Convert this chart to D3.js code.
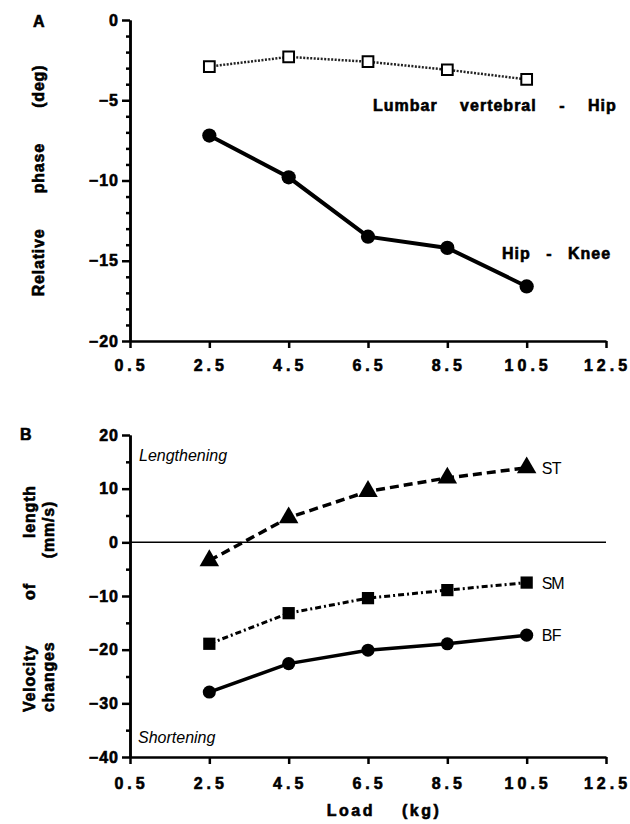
<!DOCTYPE html>
<html>
<head>
<meta charset="utf-8">
<script src="https://cdn.jsdelivr.net/npm/d3@7"></script>
<style>
  body { margin: 0; background: #fff; }
  svg text { font-family: "Liberation Sans", Arial, Helvetica, sans-serif; fill: #000; }
  svg text.heavy { stroke: #000; stroke-width: 0.6; }
  .axis path, .axis line { stroke: #000; stroke-width: 2.5; }
  .axis text { font-size: 16px; font-weight: bold; font-family: "Liberation Sans", Arial, sans-serif; stroke: #000; stroke-width: 0.6; }
</style>
</head>
<body>
<svg id="chart" width="630" height="824"></svg>
<script>
// data
var loads = [2.5, 4.5, 6.5, 8.5, 10.5];
var xTicks = [0.5, 2.5, 4.5, 6.5, 8.5, 10.5, 12.5];

// panel A - relative phase (deg)
var lumbarHip = [-2.9, -2.3, -2.6, -3.1, -3.7];
var hipKnee = [-7.2, -9.8, -13.5, -14.2, -16.6];
var yTicksA = [0, -5, -10, -15, -20];

// panel B - velocity of length changes (mm/s)
var st = [-3.4, 4.6, 9.5, 12.0, 13.9];
var sm = [-18.9, -13.2, -10.4, -8.9, -7.5];
var bf = [-27.9, -22.6, -20.1, -18.9, -17.3];
var yTicksB = [20, 10, 0, -10, -20, -30, -40];

var svg = d3.select('#chart');

var x = d3.scaleLinear().domain([0.5, 12.5]).range([130, 606]);
var yA = d3.scaleLinear().domain([-20, 0]).range([341, 20]);
var yB = d3.scaleLinear().domain([-40, 20]).range([757, 435]);

function drawYAxis(scale, majors, minorStep) {
  var lo = scale.domain()[0], hi = scale.domain()[1];
  var minors = d3.range(lo, hi + 0.001, minorStep).filter(function(v) { return majors.indexOf(v) < 0; });
  svg.append('g').attr('class', 'axis')
    .attr('transform', 'translate(130,0)')
    .call(d3.axisLeft(scale).tickValues(minors).tickSize(4).tickSizeOuter(0).tickFormat(''));
  var g = svg.append('g').attr('class', 'axis')
    .attr('transform', 'translate(130,0)')
    .call(d3.axisLeft(scale).tickValues(majors).tickSize(8).tickSizeOuter(0).tickPadding(3).tickFormat(d3.format('d')));
  g.selectAll('text').attr('letter-spacing', 1);
}

function drawXAxis(yPos, pad) {
  var g = svg.append('g').attr('class', 'axis')
    .attr('transform', 'translate(0,' + yPos + ')')
    .call(d3.axisBottom(x).tickValues(xTicks).tickSize(7).tickSizeOuter(0).tickPadding(pad).tickFormat(d3.format('.1f')));
  g.selectAll('text').attr('font-size', 15.5).attr('letter-spacing', 4).attr('dx', 1);
}

function drawSeries(yScale, values, opts) {
  var pts = loads.map(function(l, i) { return [x(l), yScale(values[i])]; });
  svg.append('path')
    .attr('d', d3.line()(pts))
    .attr('fill', 'none')
    .attr('stroke', opts.color || '#000')
    .attr('stroke-width', opts.width)
    .attr('stroke-dasharray', opts.dash || null);
  var sym = d3.symbol().type(opts.symbol).size(opts.size);
  svg.selectAll(null).data(pts).enter().append('path')
    .attr('d', sym)
    .attr('transform', function(p) { return 'translate(' + p[0] + ',' + p[1] + ')'; })
    .attr('fill', opts.fill)
    .attr('stroke', '#000')
    .attr('stroke-width', opts.fill === '#fff' ? 2 : 0);
}

function label(txt, px, py, o) {
  o = o || {};
  var t = svg.append('text')
    .attr('class', o.weight === 'normal' ? null : 'heavy')
    .attr('x', px).attr('y', py)
    .attr('font-size', o.size || 16)
    .attr('font-weight', o.weight || 'bold')
    .attr('font-style', o.italic ? 'italic' : null)
    .attr('text-anchor', o.anchor || 'start')
    .attr('letter-spacing', o.ls || 0)
    .attr('word-spacing', o.ws || 0)
    .text(txt);
  if (o.rotate) t.attr('transform', 'rotate(-90,' + px + ',' + py + ')');
  return t;
}

// ---- Panel A ----
drawYAxis(yA, yTicksA, 1);
drawXAxis(yA(-20), 12);
drawSeries(yA, lumbarHip, {width: 2.5, dash: '2,1.5', color: '#222', symbol: d3.symbolSquare, size: 115, fill: '#fff'});
drawSeries(yA, hipKnee, {width: 4, symbol: d3.symbolCircle, size: 160, fill: '#000'});

label('A', 33, 27);
label('Relative phase (deg)', 44, (yA(0) + yA(-20)) / 2, {rotate: true, anchor: 'middle', ws: 30, ls: 0.8});
label('Lumbar vertebral - Hip', 373, 111, {ls: 1, ws: 17});
label('Hip - Knee', 502, 259, {ls: 1, ws: 10});

// ---- Panel B ----
drawYAxis(yB, yTicksB, 5);
drawXAxis(yB(-40), 14);

svg.append('line')
  .attr('x1', x(0.5)).attr('x2', x(12.5))
  .attr('y1', yB(0)).attr('y2', yB(0))
  .attr('stroke', '#000').attr('stroke-width', 1.5);

drawSeries(yB, st, {width: 3.5, dash: '9,5', symbol: d3.symbolTriangle, size: 165, fill: '#000'});
drawSeries(yB, sm, {width: 3, dash: '6,3,2,3', symbol: d3.symbolSquare, size: 150, fill: '#000'});
drawSeries(yB, bf, {width: 3.5, symbol: d3.symbolCircle, size: 135, fill: '#000'});

label('B', 20, 440);
label('Velocity of length', 35, 712, {rotate: true, ws: 40, ls: 0.8});
label('changes (mm/s)', 54, 712, {rotate: true, ws: 78, ls: 0.8});
label('ST', x(10.5) + 15, yB(st[4]) + 6, {weight: 'normal', ls: -0.5});
label('SM', x(10.5) + 15, yB(sm[4]) + 6, {weight: 'normal', ls: -1});
label('BF', x(10.5) + 15, yB(bf[4]) + 6, {weight: 'normal', ls: -0.5});
label('Lengthening', 139, 461, {weight: 'normal', italic: true});
label('Shortening', 138, 743, {weight: 'normal', italic: true});
label('Load (kg)', 384, 816, {anchor: 'middle', ls: 2.5, ws: 20});
</script>
</body>
</html>
